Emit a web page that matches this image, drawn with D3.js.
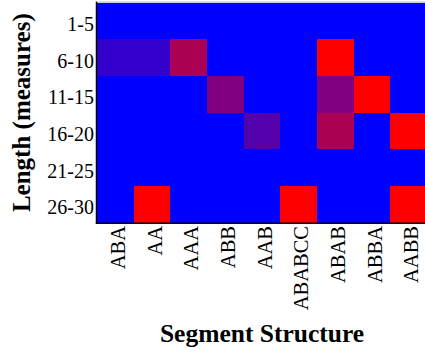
<!DOCTYPE html>
<html>
<head>
<meta charset="utf-8">
<script src="https://cdn.jsdelivr.net/npm/d3@7"></script>
<style>
  body { margin: 0; background: #fff; }
  svg { display: block; }
</style>
</head>
<body>
<div id="chart"></div>
<script>
// data
const structures = ["ABA", "AA", "AAA", "ABB", "AAB", "ABABCC", "ABAB", "ABBA", "AABB"];
const lengths = ["1-5", "6-10", "11-15", "16-20", "21-25", "26-30"];
// one row per length bin, one value per structure (0 = blue, 1 = red)
const values = [
  [0, 0, 0, 0, 0, 0, 0, 0, 0],
  [0.2, 0.2, 0.67, 0, 0, 0, 1, 0, 0],
  [0, 0, 0, 0.5, 0, 0, 0.5, 1, 0],
  [0, 0, 0, 0, 0.33, 0, 0.67, 0, 1],
  [0, 0, 0, 0, 0, 0, 0, 0, 0],
  [0, 1, 0, 0, 0, 1, 0, 0, 1]
];

const width = 425;
const height = 354;
const plotL = 97, plotR = 427, plotT = 2.6, plotB = 222.7;
const serif = "'Liberation Serif', 'Times New Roman', Times, serif";

const svg = d3.select("#chart")
  .append("svg")
  .attr("width", width)
  .attr("height", height);

const x = d3.scaleBand().domain(structures).range([plotL, plotR]);
const y = d3.scaleBand().domain(lengths).range([plotT, plotB]);
const color = d3.scaleLinear().domain([0, 1]).range(["#0000ff", "#ff0000"]).interpolate(d3.interpolateRgb);

// flatten into cells
const cells = [];
lengths.forEach((len, i) => {
  structures.forEach((s, j) => {
    cells.push({ len: len, s: s, v: values[i][j] });
  });
});

svg.append("g")
  .attr("shape-rendering", "crispEdges")
  .selectAll("rect")
  .data(cells)
  .enter()
  .append("rect")
  .attr("x", d => x(d.s))
  .attr("y", d => y(d.len))
  .attr("width", x.bandwidth() + 1)
  .attr("height", y.bandwidth() + 1)
  .attr("fill", d => color(d.v));

// spines
svg.append("line")
  .attr("x1", plotL).attr("x2", width)
  .attr("y1", plotT - 0.5).attr("y2", plotT - 0.5)
  .attr("stroke", "#aaa").attr("stroke-width", 1);
svg.append("line")
  .attr("x1", plotL - 0.5).attr("x2", plotL - 0.5)
  .attr("y1", plotT - 1).attr("y2", plotB + 1)
  .attr("stroke", "#000").attr("stroke-width", 1.5);
svg.append("line")
  .attr("x1", plotL - 1.2).attr("x2", width)
  .attr("y1", plotB + 0.5).attr("y2", plotB + 0.5)
  .attr("stroke", "#000").attr("stroke-width", 1.5);

// y tick labels
svg.append("g")
  .selectAll("text")
  .data(lengths)
  .enter()
  .append("text")
  .attr("x", 94)
  .attr("y", d => y(d) + y.bandwidth() / 2 + 3)
  .attr("dy", "0.35em")
  .attr("text-anchor", "end")
  .attr("font-family", serif)
  .attr("font-size", 20)
  .text(d => d);

// x tick labels, rotated
svg.append("g")
  .selectAll("text")
  .data(structures)
  .enter()
  .append("text")
  .attr("transform", d => `translate(${x(d) + x.bandwidth() / 2 + 9.5},226) rotate(-90)`)
  .attr("text-anchor", "end")
  .attr("font-family", serif)
  .attr("font-size", 20.5)
  .text(d => d);

// axis titles
svg.append("text")
  .attr("transform", `translate(30,${(plotT + plotB) / 2}) rotate(-90)`)
  .attr("text-anchor", "middle")
  .attr("font-family", serif)
  .attr("font-size", 25)
  .attr("font-weight", "bold")
  .text("Length (measures)");

svg.append("text")
  .attr("x", 262)
  .attr("y", 341.5)
  .attr("text-anchor", "middle")
  .attr("font-family", serif)
  .attr("font-size", 25.5)
  .attr("font-weight", "bold")
  .text("Segment Structure");
</script>
</body>
</html>
